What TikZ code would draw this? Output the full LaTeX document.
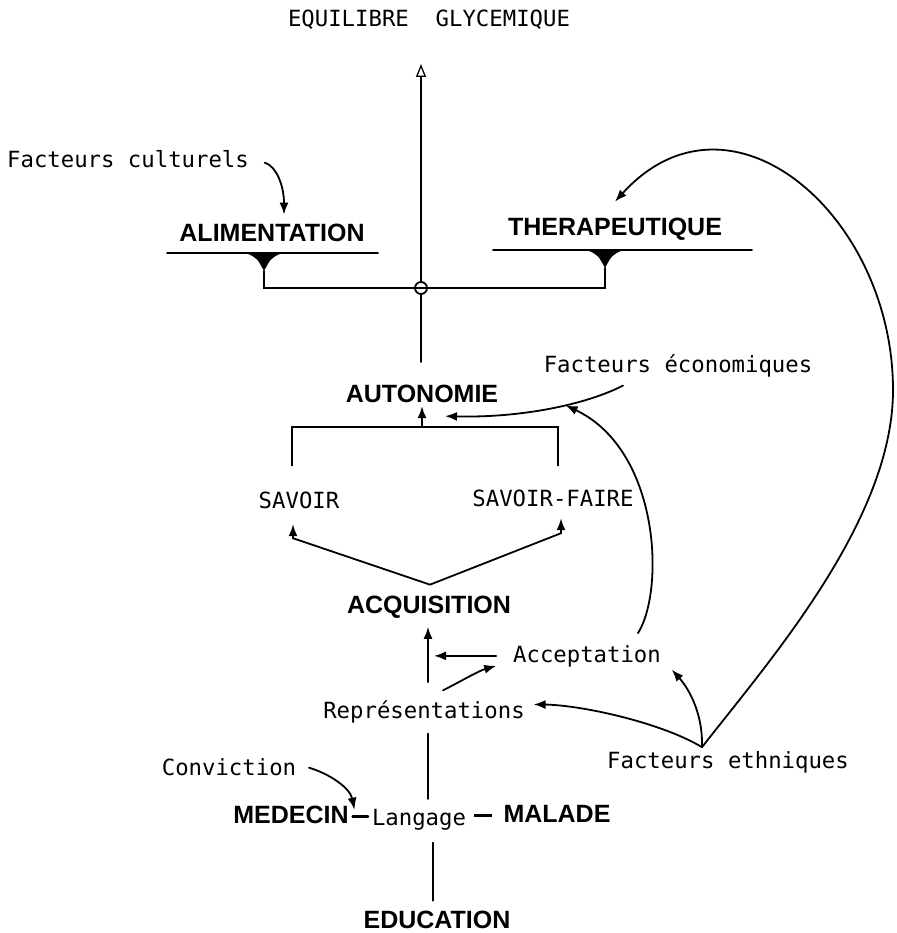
\documentclass[tikz,border=0pt]{standalone}
\usepackage{fontspec}
\setmainfont{Liberation Sans}
\setmonofont{DejaVu Sans Mono}
\usetikzlibrary{arrows.meta}

\begin{document}
\begin{tikzpicture}[x=1pt,y=-1pt,line width=1.8pt,line cap=round]
                \tikzstyle{bigword}=[font=\fontsize{25}{25}\selectfont\bfseries,inner sep=3pt,anchor=base]
                \tikzstyle{smallword}=[font=\fontsize{22.3}{22.3}\selectfont\ttfamily,inner sep=3pt,anchor=base]
                \tikzstyle{arr}=[-{Latex[length=12pt,width=9pt]}]
                \tikzstyle{hubdot}=[circle,draw,fill=white,minimum size=12pt,inner sep=0pt]
                \useasboundingbox (0,0) rectangle (896,933);

                \foreach \name/\x/\y/\txt in {alim/272/241/ALIMENTATION, thera/615/236/THERAPEUTIQUE, auto/422/402/AUTONOMIE, acqui/429/613/ACQUISITION, medecin/291/823/MEDECIN, malade/557/822/MALADE, educ/437/928/EDUCATION}
                        \node[bigword] (\name) at (\x,\y) {\txt};
                \foreach \name/\x/\y/\txt in {equil/429/27/EQUILIBRE\ \ GLYCEMIQUE, cult/128/168/Facteurs culturels, econ/678/372/Facteurs économiques, savoir/299/508/SAVOIR, savfaire/553/506/SAVOIR-FAIRE, accept/587/662/Acceptation, repres/424/718/Représentations, ethn/728/768/Facteurs ethniques, conv/229/775/Conviction, langage/419/825/Langage}
                        \node[smallword] (\name) at (\x,\y) {\txt};

                \node[hubdot] (hub) at (421,288) {};
                \coordinate (goal) at (421,64);
                \coordinate (stem) at (421,362);
                \draw[-{Triangle[open,length=13pt,width=10pt,line width=1.3pt]}] (hub) -- (goal);
                \draw (hub) -- (stem);

                \foreach \name/\x/\y/\l/\r in {alim/264/253/167/378, thera/605/250/493/752} {
                        \draw (\l,\y) -- (\r,\y);
                        \fill (\x-18,\y) -- (\x+18,\y) .. controls (\x+7,\y+5) .. (\x,\y+18) .. controls (\x-7,\y+5) .. cycle;
                        \coordinate (\name-tip) at (\x,\y+18);
                }
                \draw (alim-tip) |- (hub.center) -| (thera-tip);

                \draw[arr] ([shift={(12,3)}]cult.east) .. controls (276,166) and (284,185) .. ([shift={(12,-5)}]alim.north);

                \coordinate (join) at (422,427);
                \draw ([shift={(-7,-22)}]savoir.north) |- (join) -| ([shift={(5,-20)}]savfaire.north);
                \draw[arr] (join) -- (auto);

                \draw[arr] ([shift={(1,-7)}]acqui.north) -- ([shift={(-6,26)}]savoir.south) -- ([shift={(-6,12)}]savoir.south);
                \draw[arr] ([shift={(1,-7)}]acqui.north) -- ([shift={(8,23)}]savfaire.south) -- ([shift={(8,8)}]savfaire.south);

                \draw[arr] ([shift={(4,-14)}]repres.north) -- ([shift={(-1,5)}]acqui.south);
                \draw[arr] ([xshift=-13pt]accept.west) -- ([xshift=5pt]acqui.south |- accept.west);
                \draw[arr] ([shift={(19,-6)}]repres.north) .. controls (458,683) and (478,671) .. ([shift={(-13,10)}]accept.west);

                \draw[arr] ([shift={(-55,5)}]econ.south) .. controls (585,405) and (520,418) .. ([shift={(23,10)}]auto.south) coordinate[pos=0.4] (meet);
                \draw[arr] ([shift={(51,-8)}]accept.north) .. controls (665,590) and (660,450) .. (meet);

                \coordinate (fe) at ([xshift=-26pt]ethn.north);
                \draw[arr] (fe) .. controls (660,722) and (580,705) .. ([shift={(5,-7)}]repres.east);
                \draw[arr] (fe) .. controls (703,715) and (690,690) .. ([shift={(7,-1)}]accept.south east);
                \draw[arr] (fe) .. controls (770,660) and (893,520) .. (893,390) .. controls (893,215) and (730,75) .. ([shift={(0,-13)}]thera.north);

                \draw[arr] ([shift={(9,1)}]conv.east) .. controls (330,774) and (350,788) .. ([shift={(2,8)}]medecin.north east);
                \draw[line width=2.2pt] ([yshift=-2pt]medecin.east) -- ([yshift=-2pt]medecin.east -| langage.west);
                \draw[line width=3pt,line cap=butt] ([shift={(4,-4)}]langage.east) -- ([shift={(-8,-4)}]langage.east -| malade.west);

                \draw ([shift={(4,7)}]repres.south) -- ([shift={(9,-6)}]langage.north);
                \draw ([shift={(14,9)}]langage.south) -- ([shift={(-4,-6)}]educ.north);
\end{tikzpicture}
\end{document}
